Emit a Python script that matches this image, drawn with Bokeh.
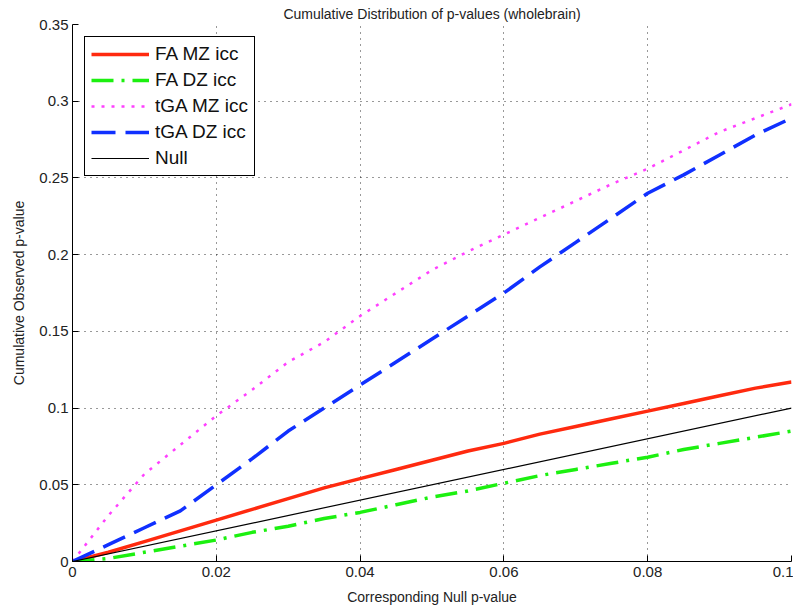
from bokeh.plotting import figure
from bokeh.models import FixedTicker, Legend, LegendItem, Range1d
from bokeh.embed import file_html
from bokeh.resources import INLINE

x_vals = [0, 0.005, 0.01, 0.015, 0.02, 0.025, 0.03, 0.035, 0.04, 0.045, 0.05,
          0.055, 0.06, 0.065, 0.07, 0.075, 0.08, 0.085, 0.09, 0.095, 0.1]
fa_mz = [0, 0.006, 0.013, 0.020, 0.027, 0.034, 0.041, 0.048, 0.054, 0.060, 0.066,
         0.072, 0.077, 0.083, 0.088, 0.093, 0.098, 0.103, 0.108, 0.113, 0.117]
fa_dz = [0, 0.002, 0.006, 0.010, 0.014, 0.019, 0.023, 0.028, 0.032, 0.037, 0.042,
         0.046, 0.051, 0.056, 0.060, 0.064, 0.068, 0.073, 0.077, 0.081, 0.085]
tga_mz = [0, 0.030, 0.057, 0.076, 0.095, 0.112, 0.130, 0.143, 0.160, 0.175, 0.190,
          0.202, 0.213, 0.224, 0.235, 0.246, 0.256, 0.268, 0.280, 0.289, 0.298]
tga_dz = [0, 0.011, 0.022, 0.033, 0.050, 0.067, 0.085, 0.100, 0.115, 0.130, 0.145,
          0.160, 0.175, 0.192, 0.208, 0.224, 0.240, 0.252, 0.265, 0.278, 0.289]
null_x = [0, 0.1]
null_y = [0, 0.1]

x_ticks = [0, 0.02, 0.04, 0.06, 0.08, 0.1]
y_ticks = [0, 0.05, 0.1, 0.15, 0.2, 0.25, 0.3, 0.35]
x_labels = ["0", "0.02", "0.04", "0.06", "0.08", "0.1"]
y_labels = ["0", "0.05", "0.1", "0.15", "0.2", "0.25", "0.3", "0.35"]

FONT = "Liberation Sans"

p = figure(frame_width=719, frame_height=537, output_backend="svg", toolbar_location=None,
           x_range=Range1d(0, 0.1), y_range=Range1d(0, 0.35),
           min_border_left=72, min_border_right=2, min_border_top=10, min_border_bottom=40,
           title="Cumulative Distribution of p-values (wholebrain)")
p.title.align = "center"
p.title.text_font = FONT
p.title.text_font_size = "14px"
p.title.text_font_style = "normal"
p.title.text_color = "#222222"
p.title.offset = 0
p.title.standoff = 6
p.outline_line_color = None

r1 = p.line(x_vals, fa_mz, line_color="#ff2a0f", line_width=3.5)
r2 = p.line(x_vals, fa_dz, line_color="#1cf010", line_width=3.5, line_dash="22 8 3 8")
r3 = p.line(x_vals, tga_mz, line_color="#ff40ff", line_width=2.5, line_dash="3 7")
r4 = p.line(x_vals, tga_dz, line_color="#1030ff", line_width=3.5, line_dash="24 10")
r5 = p.line(null_x, null_y, line_color="black", line_width=1.2)

for ax in (p.xaxis[0], p.yaxis[0]):
    ax.axis_line_color = "black"
    ax.major_tick_in = 6
    ax.major_tick_out = 0
    ax.minor_tick_in = 0
    ax.minor_tick_out = 0
    ax.major_label_text_font = FONT
    ax.major_label_text_font_size = "15px"
    ax.major_label_text_color = "#222222"
    ax.axis_label_text_font = FONT
    ax.axis_label_text_font_size = "14px"
    ax.axis_label_text_font_style = "normal"
    ax.axis_label_text_color = "#222222"

p.xaxis[0].ticker = FixedTicker(ticks=x_ticks)
p.yaxis[0].ticker = FixedTicker(ticks=y_ticks)
p.xaxis[0].major_label_overrides = {t: l for t, l in zip(x_ticks, x_labels)}
p.yaxis[0].major_label_overrides = {t: l for t, l in zip(y_ticks, y_labels)}
p.xaxis[0].axis_label = "Corresponding Null p-value"
p.yaxis[0].axis_label = "Cumulative Observed p-value"
p.xaxis[0].major_label_standoff = 5
p.yaxis[0].major_label_standoff = 4
p.xaxis[0].axis_label_standoff = 9
p.yaxis[0].axis_label_standoff = 9

for g in (p.xgrid[0], p.ygrid[0]):
    g.grid_line_color = "black"
    g.grid_line_dash = "1 5"
    g.grid_line_alpha = 0.8
    g.grid_line_width = 1

legend = Legend(items=[
    LegendItem(label="FA MZ icc", renderers=[r1]),
    LegendItem(label="FA DZ icc", renderers=[r2]),
    LegendItem(label="tGA MZ icc", renderers=[r3]),
    LegendItem(label="tGA DZ icc", renderers=[r4]),
    LegendItem(label="Null", renderers=[r5]),
], location="top_left")
legend.margin = 12
legend.padding = 6
legend.spacing = 4
legend.glyph_width = 58
legend.glyph_height = 20
legend.label_height = 20
legend.label_standoff = 6
legend.label_text_font = FONT
legend.label_text_font_size = "19px"
legend.label_text_color = "#111111"
legend.border_line_color = "black"
legend.border_line_width = 1
legend.border_line_alpha = 1
legend.background_fill_color = "white"
legend.background_fill_alpha = 1
p.add_layout(legend)

open("out.html", "w").write(file_html(p, INLINE))
